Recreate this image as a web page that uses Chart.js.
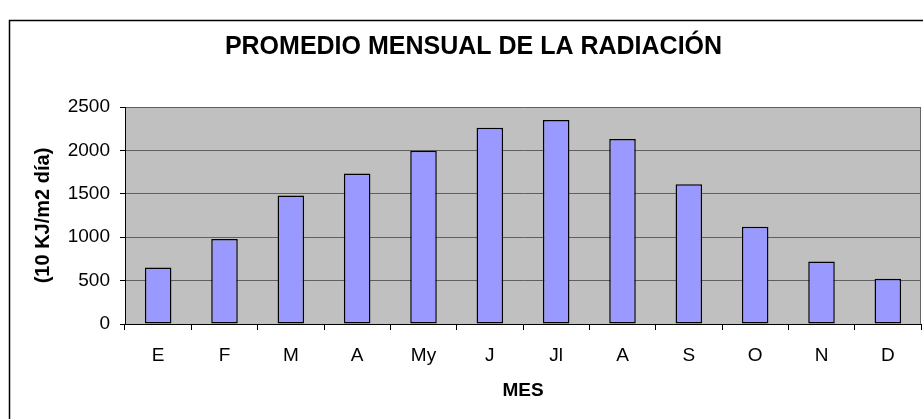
<!DOCTYPE html>
<html>
<head>
<meta charset="utf-8">
<script src="https://cdn.jsdelivr.net/npm/chart.js@4"></script>
<style>
  html, body { margin: 0; padding: 0; background: #fff; }
</style>
</head>
<body>
<canvas id="myChart" width="923" height="419"></canvas>
<script>
// Chart data
const months = ["E", "F", "M", "A", "My", "J", "Jl", "A", "S", "O", "N", "D"];
const radiation = [650, 980, 1480, 1735, 1995, 2260, 2350, 2130, 1610, 1120, 720, 520];
const yTicks = [0, 500, 1000, 1500, 2000, 2500];

const chartTitle = "PROMEDIO MENSUAL DE LA RADIACIÓN";
const xTitle = "MES";
const yTitle = "(10 KJ/m2 día)";

const fontFamily = "'Liberation Sans', Arial, sans-serif";

// Outer frame and gray plot area, like the Excel original
const backgroundPlugin = {
  id: "excelBackground",
  beforeDraw(chart) {
    const ctx = chart.ctx;
    const area = chart.chartArea;
    ctx.save();
    ctx.fillStyle = "#fff";
    ctx.fillRect(0, 0, chart.width, chart.height);
    ctx.strokeStyle = "#000";
    ctx.lineWidth = 1.5;
    ctx.strokeRect(9.5, 20.5, chart.width + 10, chart.height + 10);
    ctx.fillStyle = "#C0C0C0";
    ctx.fillRect(area.left, area.top, area.right - area.left, area.bottom - area.top);
    ctx.strokeStyle = "#666";
    ctx.lineWidth = 1;
    ctx.beginPath();
    ctx.moveTo(area.right - 0.5, area.top);
    ctx.lineTo(area.right - 0.5, area.bottom);
    ctx.stroke();
    ctx.restore();
  }
};

const chartCanvas = document.getElementById("myChart");

window.myChart = new Chart(chartCanvas, {
  type: "bar",
  data: {
    labels: months,
    datasets: [
      {
        data: radiation,
        backgroundColor: "#9999FF",
        borderColor: "#000",
        borderWidth: 1.5,
        borderSkipped: false,
        categoryPercentage: 0.4,
        barPercentage: 1.0,
      },
    ],
  },
  options: {
    responsive: false,
    animation: false,
    devicePixelRatio: 1,
    layout: { padding: { left: 26, right: 2, top: 0, bottom: 0 } },
    plugins: {
      legend: { display: false },
      tooltip: { enabled: false },
      title: {
        display: true,
        text: chartTitle,
        color: "#000",
        font: { family: fontFamily, size: 25, weight: "bold" },
        padding: { top: 32, bottom: 45 },
      },
    },
    scales: {
      x: {
        grid: {
          display: true,
          drawOnChartArea: false,
          drawTicks: true,
          tickLength: 6,
          tickColor: "#000",
          offset: true,
        },
        border: { color: "#000", width: 1 },
        ticks: {
          color: "#000",
          padding: 14,
          font: { family: fontFamily, size: 19 },
        },
        title: {
          display: true,
          text: xTitle,
          color: "#000",
          font: { family: fontFamily, size: 19, weight: "bold" },
          padding: { top: 0, bottom: 17 },
        },
        afterFit(scale) {
          scale.height = 95;
        },
      },
      y: {
        min: 0,
        max: 2500,
        afterBuildTicks(scale) {
          scale.ticks = yTicks.map(v => ({ value: v }));
        },
        grid: {
          color: "#5f5f5f",
          lineWidth: 1,
          tickLength: 5,
          tickColor: "#000",
        },
        border: { color: "#000", width: 1 },
        ticks: {
          color: "#000",
          padding: 10,
          font: { family: fontFamily, size: 19 },
          callback: value => String(value),
        },
        title: {
          display: true,
          text: yTitle,
          color: "#000",
          font: { family: fontFamily, size: 20, weight: "bold" },
          padding: { top: 5, bottom: 0 },
        },
        afterFit(scale) {
          scale.width = 99;
        },
      },
    },
  },
  plugins: [backgroundPlugin],
});
</script>
</body>
</html>
